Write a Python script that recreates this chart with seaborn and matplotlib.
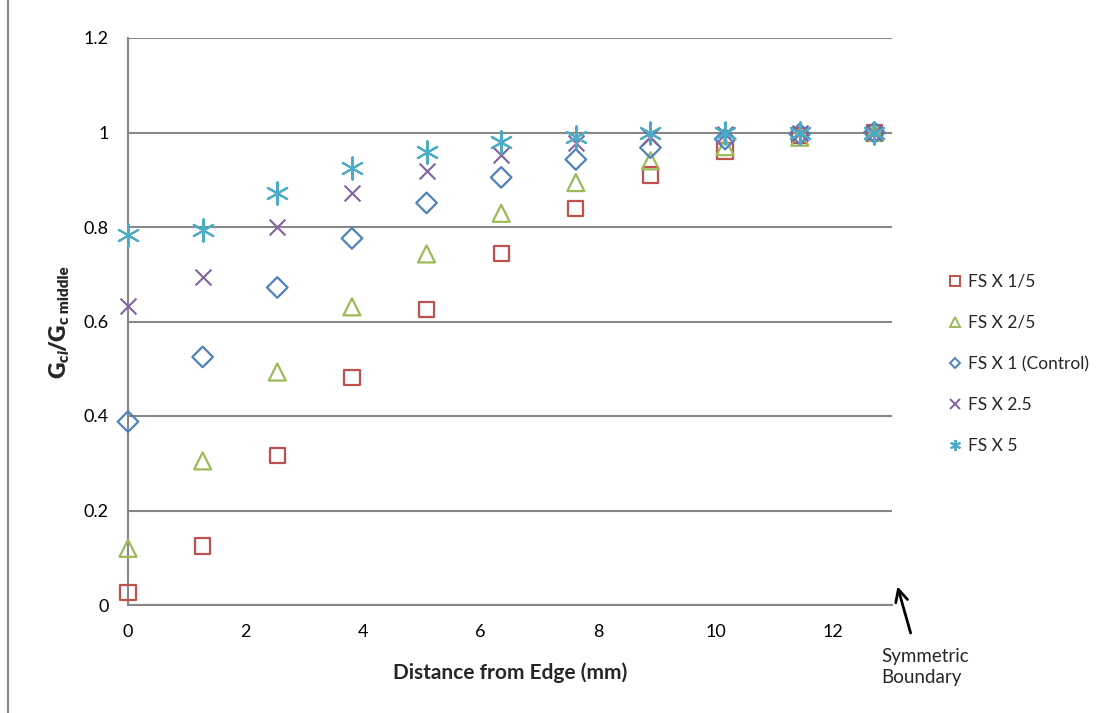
import matplotlib
matplotlib.use("Agg")
import matplotlib.pyplot as plt
import seaborn as sns
import pandas as pd
from matplotlib.lines import Line2D

# Distance from edge (mm) and normalised Gc per series
distance = [0, 1.27, 2.54, 3.81, 5.08, 6.35, 7.62, 8.89, 10.16, 11.43, 12.7]
fs_1_5 = [0.026, 0.125, 0.316, 0.482, 0.626, 0.744, 0.839, 0.910, 0.961, 0.993, 1.0]
fs_2_5 = [0.120, 0.305, 0.493, 0.631, 0.743, 0.829, 0.894, 0.940, 0.970, 0.990, 1.0]
fs_1 = [0.388, 0.525, 0.672, 0.776, 0.851, 0.905, 0.943, 0.968, 0.986, 0.997, 1.0]
fs_2p5 = [0.633, 0.695, 0.801, 0.871, 0.919, 0.952, 0.977, 0.990, 0.997, 1.0, 1.0]
fs_5 = [0.783, 0.794, 0.873, 0.924, 0.959, 0.980, 0.991, 0.998, 1.0, 1.0, 1.0]

labels = ["FS X 1/5", "FS X 2/5", "FS X 1 (Control)", "FS X 2.5", "FS X 5"]
series = [fs_1_5, fs_2_5, fs_1, fs_2p5, fs_5]
colors = ["#C0504D", "#9BBB59", "#4F81BD", "#8064A2", "#4BACC6"]
markers = ["s", "^", "D", "x", (6, 2, 0)]
sizes = [120, 150, 110, 130, 260]

# y label pieces: (text, is_subscript, italic)
ylabel_parts = [("G", False, False), ("c", True, False), ("i", True, True),
                ("/G", False, False), ("c middle", True, False)]

sns.set_style("white")
plt.rcParams["font.family"] = ["Lato", "DejaVu Sans"]

fig = plt.figure(figsize=(11.09, 7.13), dpi=100)
ax = fig.add_axes([128 / 1109, 1 - 605 / 713, (892 - 128) / 1109, (605 - 38) / 713])

handles = []
for lab, ys, c, m, s in zip(labels, series, colors, markers, sizes):
    df = pd.DataFrame({"x": distance, "y": ys})
    if m == "x" or isinstance(m, tuple):
        sns.scatterplot(data=df, x="x", y="y", marker=m, s=s, color=c,
                        linewidth=1.5, ax=ax, zorder=3, clip_on=False)
        h = Line2D([], [], ls="", marker=m, color=c,
                   markersize=7 if m == "x" else 8, mew=1.4)
    else:
        sns.scatterplot(data=df, x="x", y="y", marker=m, s=s, facecolor="none",
                        edgecolor=c, linewidth=1.6, ax=ax, zorder=3, clip_on=False)
        h = Line2D([], [], ls="", marker=m, mfc="none", mec=c,
                   markersize=7 if m != "D" else 5.5, mew=1.4)
    handles.append(h)

ax.set_xlim(0, 13)
ax.set_ylim(0, 1.2)
ax.set_xticks(range(0, 13, 2))
ax.set_yticks([0, 0.2, 0.4, 0.6, 0.8, 1, 1.2])
ax.set_yticklabels(["0", "0.2", "0.4", "0.6", "0.8", "1", "1.2"])
ax.grid(axis="y", color="#878787", linewidth=1.5)
ax.grid(axis="x", visible=False)
ax.set_axisbelow(True)
for side in ["top", "right"]:
    ax.spines[side].set_visible(False)
for side in ["left", "bottom"]:
    ax.spines[side].set_color("#878787")
    ax.spines[side].set_linewidth(1.5)
ax.tick_params(axis="both", length=0, labelsize=13, colors="black")
ax.tick_params(axis="x", pad=14)
ax.tick_params(axis="y", pad=14)
ax.set_ylabel("")
ax.set_xlabel("Distance from Edge (mm)", fontsize=15, fontweight="bold", labelpad=16)

# y label built piece by piece (bold with subscripts), reading bottom to top
renderer = fig.canvas.get_renderer()
base_x, cur_y = 65, 713 - 378  # figure pixels (origin bottom-left)
for txt, sub, ital in ylabel_parts:
    t = fig.text(base_x + (4 if sub else 0), cur_y, txt,
                 fontsize=11 if sub else 16.5, fontweight="heavy",
                 fontstyle="italic" if ital else "normal",
                 rotation=90, rotation_mode="anchor", ha="left", va="baseline",
                 transform=None)
    bb = t.get_window_extent(renderer)
    cur_y += bb.height - (1 if ital else 0)

fig.legend(handles=handles, labels=labels, loc="center left",
           bbox_to_anchor=(932 / 1109, 1 - 364 / 713), frameon=False,
           fontsize=12.5, labelspacing=1.45, handlelength=0.8, handletextpad=0.4)

# Symmetric boundary annotation
ax.annotate("", xy=(13.08, 0.045), xytext=(13.33, -0.065),
            arrowprops=dict(arrowstyle="->", color="black", lw=2,
                            mutation_scale=22),
            annotation_clip=False)
ax.text(12.82, -0.09, "Symmetric\nBoundary", fontsize=13.5, ha="left", va="top",
        linespacing=1.35)

# left frame edge of the original chart area
fig.add_artist(Line2D([8 / 1109, 8 / 1109], [0, 1], color="#878787",
                      lw=1.5, transform=fig.transFigure))

fig.savefig("out.png", dpi=100)
